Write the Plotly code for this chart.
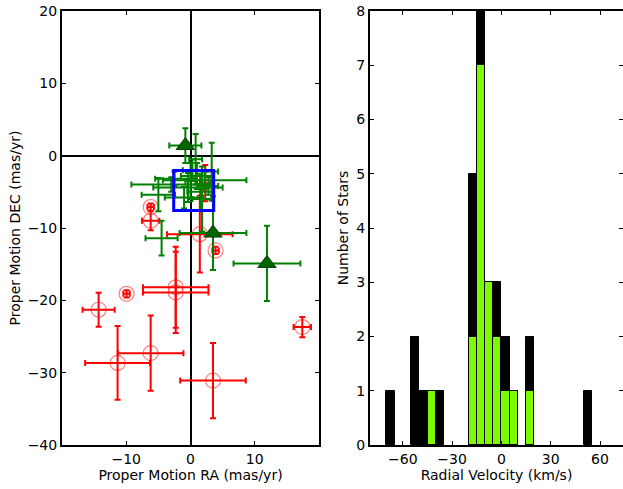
import plotly.graph_objects as go

# ---------------- Left panel: proper motions ----------------
# Red (non-member) stars: RA, DEC, errors
red_ra = [-6.2, -6.2, 1.45, 3.9, -9.95, -2.3, -2.3, -14.3, -6.2, -11.35, 3.5, 17.4, 2.3]
red_dec = [-7.1, -9.0, -10.85, -13.1, -19.1, -18.2, -18.9, -21.3, -27.3, -28.65, -31.1, -23.7, -3.8]
red_ra_err = [0.5, 1.35, 5.1, 0.5, 0.5, 5.1, 5.1, 2.5, 5.1, 5.05, 5.1, 1.35, 0.8]
red_dec_err = [0.5, 1.3, 5.3, 0.5, 0.5, 5.6, 5.6, 2.35, 5.2, 5.1, 5.2, 1.4, 2.5]

# Green triangles (members with markers)
tri_ra = [-0.8, 3.5, 11.9]
tri_dec = [1.4, -10.7, -14.9]
tri_ra_err = [2.5, 5.2, 5.2]
tri_dec_err = [2.4, 5.1, 5.2]

# Green members (error bars only)
grn_ra = [-4.5, -5.0, 0.3, 1.0, 2.2, -0.4, -2.5, 3.3, 0.8, 1.5, 1.8, -1.0, 2.8, 0.0, -3.0]
grn_dec = [-11.4, -5.4, -2.0, -2.8, -3.4, -4.4, -3.2, -2.2, -0.5, -5.0, -6.0, -5.8, -4.2, -3.5, -4.0]
grn_ra_err = [2.5, 2.6, 1.5, 2.5, 6.5, 5.4, 3.0, 1.0, 1.0, 2.0, 1.5, 3.0, 1.5, 0.8, 6.2]
grn_dec_err = [2.4, 2.3, 1.5, 1.8, 1.2, 2.0, 1.0, 4.0, 3.5, 2.5, 4.5, 1.5, 1.2, 2.5, 1.0]

# Blue box (cluster mean)
mean_ra = [0.5]
mean_dec = [-4.8]

# ---------------- Right panel: radial velocity histogram ----------------
bin_width = 5
all_bin_left = [-70, -55, -50, -45, -40, -20, -15, -10, -5, 0, 5, 15, 50]
all_counts = [1, 2, 1, 1, 1, 5, 8, 3, 3, 2, 1, 2, 1]
mem_bin_left = [-45, -20, -15, -10, -5, 0, 5, 15]
mem_counts = [1, 2, 7, 3, 2, 1, 1, 1]

FONT = "DejaVu Sans"

fig = go.Figure()

fig.add_trace(go.Scatter(
    x=red_ra, y=red_dec, mode="markers",
    marker=dict(symbol="circle-open", size=15, color="rgba(255,0,0,0.5)", line=dict(width=1.2)),
    error_x=dict(type="data", array=red_ra_err, color="red", thickness=2, width=3),
    error_y=dict(type="data", array=red_dec_err, color="red", thickness=2, width=3),
    xaxis="x", yaxis="y", showlegend=False))

fig.add_trace(go.Scatter(
    x=grn_ra, y=grn_dec, mode="markers",
    marker=dict(symbol="circle", size=1, color="green"),
    error_x=dict(type="data", array=grn_ra_err, color="green", thickness=2, width=3),
    error_y=dict(type="data", array=grn_dec_err, color="green", thickness=2, width=3),
    xaxis="x", yaxis="y", showlegend=False))

fig.add_trace(go.Scatter(
    x=tri_ra, y=tri_dec, mode="markers",
    marker=dict(symbol="triangle-up", size=16, color="darkgreen",
                line=dict(color="#0a3d0a", width=1)),
    error_x=dict(type="data", array=tri_ra_err, color="green", thickness=2, width=3),
    error_y=dict(type="data", array=tri_dec_err, color="green", thickness=2, width=3),
    xaxis="x", yaxis="y", showlegend=False))

fig.add_trace(go.Scatter(
    x=mean_ra, y=mean_dec, mode="markers",
    marker=dict(symbol="square-open", size=40, color="blue", line=dict(width=3, color="blue")),
    xaxis="x", yaxis="y", showlegend=False))

fig.add_trace(go.Bar(
    x=all_bin_left, y=all_counts, width=bin_width, offset=0,
    marker=dict(color="black", line=dict(color="black", width=1)),
    xaxis="x2", yaxis="y2", showlegend=False))

fig.add_trace(go.Bar(
    x=mem_bin_left, y=mem_counts, width=bin_width, offset=0,
    marker=dict(color="#7CFC00", line=dict(color="black", width=1)),
    xaxis="x2", yaxis="y2", showlegend=False))

axis_common = dict(
    showgrid=False, showline=True, linecolor="black", linewidth=2,
    mirror="ticks", ticks="inside", ticklen=4, tickwidth=1, tickcolor="black",
    tickfont=dict(family=FONT, size=14, color="black"), automargin=False,
)

plot_w = 623 - 62
fig.update_layout(
    width=623, height=489,
    margin=dict(l=62, r=0, t=11, b=44),
    paper_bgcolor="white", plot_bgcolor="white",
    barmode="overlay", bargap=0,
    font=dict(family=FONT, size=14, color="black"),
    xaxis=dict(domain=[0, 257 / plot_w], range=[-20, 20], tickvals=[-10, 0, 10],
               zeroline=True, zerolinecolor="black", zerolinewidth=2,
               title=dict(text="Proper Motion RA (mas/yr)", font=dict(family=FONT, size=14), standoff=0),
               anchor="y", **axis_common),
    yaxis=dict(domain=[0, 1], range=[-40, 20], tickvals=[-40, -30, -20, -10, 0, 10, 20],
               zeroline=True, zerolinecolor="black", zerolinewidth=2,
               title=dict(text="Proper Motion DEC (mas/yr)", font=dict(family=FONT, size=14), standoff=4),
               anchor="x", **axis_common),
    xaxis2=dict(domain=[308 / plot_w, 1], range=[-80, 74], tickvals=[-60, -30, 0, 30, 60],
                zeroline=False,
                title=dict(text="Radial Velocity (km/s)", font=dict(family=FONT, size=14), standoff=0),
                anchor="y2", **axis_common),
    yaxis2=dict(domain=[0, 1], range=[0, 8], tickvals=list(range(0, 9)),
                zeroline=False,
                title=dict(text="Number of Stars", font=dict(family=FONT, size=14), standoff=4),
                anchor="x2", **axis_common),
)

fig.write_html("out.html", config={"displayModeBar": False},
               post_script="document.body.style.margin='0';document.body.style.overflow='hidden';")
